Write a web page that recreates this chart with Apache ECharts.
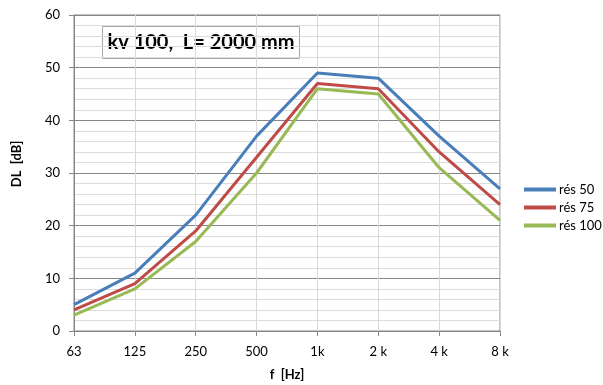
<!DOCTYPE html>
<html>
<head>
<meta charset="utf-8">
<script src="https://cdn.jsdelivr.net/npm/echarts@6/dist/echarts.min.js"></script>
<style>
  html, body { margin: 0; padding: 0; background: #fff; }
  #chart { width: 603px; height: 385px; }
</style>
</head>
<body>
<div id="chart"></div>
<script>
const categories = ['63', '125', '250', '500', '1k', '2 k', '4 k', '8 k'];
const seriesNames = ['rés 50', 'rés 75', 'rés 100'];
const res50 = [5, 11, 22, 37, 49, 48, 37, 27];
const res75 = [4, 9, 19, 33, 47, 46, 34, 24];
const res100 = [3, 8, 17, 30, 46, 45, 31, 21];
const COLORS = ['#4a7ebb', '#be4b48', '#98b954'];
const FONT = 'Lato, "Open Sans", sans-serif';

const chart = echarts.init(document.getElementById('chart'));

chart.setOption({
  animation: false,
  color: COLORS,
  grid: {
    left: 74, right: 103, top: 15, bottom: 54,
    show: true, borderColor: '#868686', borderWidth: 1
  },
  graphic: [
    {
      type: 'group',
      left: 102, top: 26,
      children: [
        { type: 'rect', shape: { x: 0, y: 0, width: 197, height: 32 },
          style: { fill: '#fff', stroke: '#a6a6a6', lineWidth: 1 } },
        { type: 'text', x: 98.5, y: 16,
          style: { text: 'kv 100,  L= 2000 mm', fill: '#000', font: 'bold 20px ' + FONT,
            align: 'center', verticalAlign: 'middle' } }
      ]
    },
    // axis titles
    { type: 'text', x: 17, y: 164, rotation: Math.PI / 2,
      style: { text: 'DL  [dB]', fill: '#000', font: 'bold 13px ' + FONT,
        align: 'center', verticalAlign: 'middle' } },
    { type: 'text', x: 287, y: 375,
      style: { text: 'f  [Hz]', fill: '#000', font: 'bold 13px ' + FONT,
        align: 'center', verticalAlign: 'middle' } }
  ],
  legend: {
    orient: 'vertical',
    left: 519, top: 178,
    itemWidth: 32, itemHeight: 4, itemGap: 5,
    icon: 'rect',
    textStyle: { fontFamily: FONT, fontSize: 13, color: '#000', padding: [0, 0, 0, -2] },
    data: seriesNames
  },
  xAxis: {
    type: 'category',
    boundaryGap: false,
    data: categories,
    axisLine: { lineStyle: { color: '#868686' } },
    axisTick: { show: true, length: 5, lineStyle: { color: '#868686' } },
    axisLabel: { fontFamily: FONT, fontSize: 13, color: '#000', margin: 14 },
    splitLine: { show: true, lineStyle: { color: '#d9d9d9' } }
  },
  yAxis: {
    type: 'value',
    min: 0, max: 60, interval: 10,
    axisLine: { show: true, lineStyle: { color: '#868686' } },
    axisTick: { show: true, length: 5, lineStyle: { color: '#868686' } },
    axisLabel: { fontFamily: FONT, fontSize: 13, color: '#000', margin: 14 },
    splitLine: { show: true, lineStyle: { color: '#868686' } },
    minorTick: { show: false, splitNumber: 5 },
    minorSplitLine: { show: true, lineStyle: { color: '#dcdcdc' } }
  },
  series: [res50, res75, res100].map((d, i) => ({
    name: seriesNames[i],
    type: 'line',
    data: d,
    showSymbol: false,
    lineStyle: { width: 3, color: COLORS[i] },
    itemStyle: { color: COLORS[i] }
  }))
});
</script>
</body>
</html>
